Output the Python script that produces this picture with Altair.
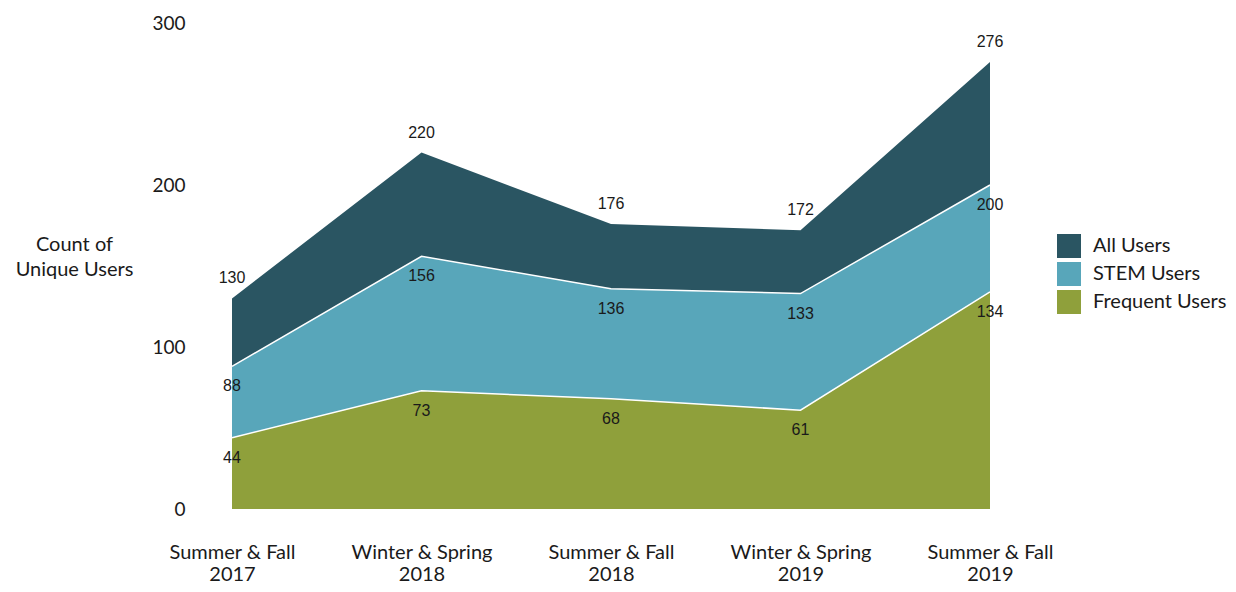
import json
import altair as alt
import pandas as pd

# ---- data ----
periods = ["Summer & Fall|2017", "Winter & Spring|2018", "Summer & Fall|2018",
           "Winter & Spring|2019", "Summer & Fall|2019"]
series = ["All Users", "STEM Users", "Frequent Users"]
all_users = [130, 220, 176, 172, 276]
stem_users = [88, 156, 136, 133, 200]
frequent_users = [44, 73, 68, 61, 134]
colors = ["#2A5562", "#58A6BA", "#8FA03B"]
y_ticks = [0, 100, 200, 300]

rows = []
for s, vals in zip(series, [all_users, stem_users, frequent_users]):
    for i, (p, v) in enumerate(zip(periods, vals)):
        rows.append({"idx": i, "period": p, "series": s, "value": v})
df = pd.DataFrame(rows)

AXIS_FONT = "Lato"
LABEL_FONT = "Liberation Sans"
TEXT_COLOR = "#1a1a1a"

label_expr = "split(" + json.dumps(periods) + "[datum.value], '|')"

x = alt.X(
    "idx:Q",
    scale=alt.Scale(domain=[0, len(periods) - 1], nice=False, zero=False),
    axis=alt.Axis(
        title=None, values=list(range(len(periods))), labelExpr=label_expr,
        labelAngle=0, labelAlign="center", labelFlush=False, labelOverlap=False,
        labelFont=AXIS_FONT, labelFontSize=20, labelColor=TEXT_COLOR,
        labelPadding=33, labelLineHeight=22, labelBaseline="top",
        domain=False, ticks=False, tickSize=0, grid=False,
    ),
)
y = alt.Y(
    "value:Q",
    scale=alt.Scale(domain=[0, 300], nice=False),
    axis=alt.Axis(
        values=y_ticks, title=["Count of", "Unique Users"], titleAngle=0,
        titleAlign="center", titleBaseline="middle", titleX=-158, titleY=221,
        titleFont=AXIS_FONT, titleFontSize=20, titleFontWeight="normal",
        titleColor=TEXT_COLOR, titleLineHeight=25,
        labelFont=AXIS_FONT, labelFontSize=19, labelColor=TEXT_COLOR,
        labelPadding=47, domain=False, ticks=False, tickSize=0, grid=False,
    ),
)
color = alt.Color(
    "series:N",
    scale=alt.Scale(domain=series, range=colors),
    legend=alt.Legend(
        title=None, orient="none", legendX=825, legendY=211,
        symbolType="square", symbolSize=576, symbolStrokeWidth=0,
        labelFont=AXIS_FONT, labelFontSize=20, labelColor=TEXT_COLOR,
        rowPadding=4, labelOffset=12, padding=0,
    ),
)

base = alt.Chart(df)
layers = []
for i, s in enumerate(series):
    sub = base.transform_filter(alt.datum.series == s)
    layers.append(sub.mark_area(opacity=1).encode(x=x, y=y, color=color))
    if i > 0:
        layers.append(sub.mark_line(color="white", strokeWidth=1.5).encode(x=x, y=y))

for i, s in enumerate(series):
    sub = base.transform_filter(alt.datum.series == s)
    dy = -20 if i == 0 else 20
    layers.append(
        sub.mark_text(font=LABEL_FONT, fontSize=16, color=TEXT_COLOR, dy=dy,
                      align="center", baseline="middle")
        .encode(x=x, y=y, text="value:Q")
    )

chart = (
    alt.layer(*layers)
    .properties(width=758, height=486,
                padding={"left": 7, "top": 6, "right": 0, "bottom": 0},
                background="white")
    .configure_view(stroke=None)
)

chart.save("out.html", embed_options={"renderer": "svg", "actions": False})
